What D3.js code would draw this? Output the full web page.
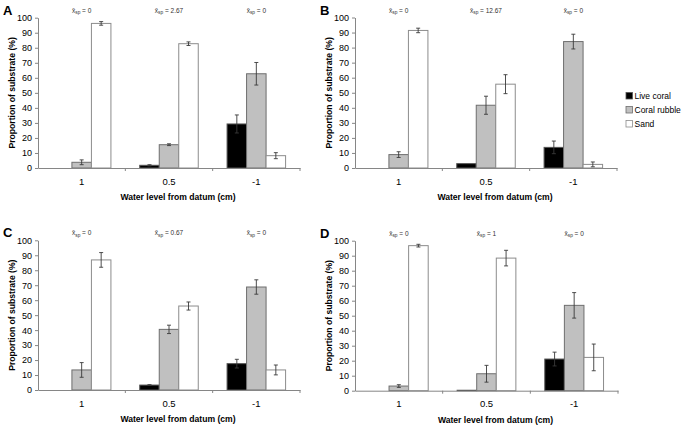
<!DOCTYPE html>
<html><head><meta charset="utf-8">
<script src="https://cdn.jsdelivr.net/npm/d3@7"></script>
<style>body{margin:0;background:#fff}svg{display:block}</style>
</head><body><svg id="c" width="685" height="426"></svg>
<script>
const categories = ["1", "0.5", "-1"];
const seriesNames = ["Live coral", "Coral rubble", "Sand"];
const yTicks = [0,10,20,30,40,50,60,70,80,90,100];
const panelLetters = ["A", "B", "C", "D"];
const spValues = [["0","2.67","0"], ["0","12.67","0"], ["0","0.67","0"], ["0","1","0"]];

const liveA = [0, 1.8, 29.3],   rubbleA = [3.8, 15.5, 62.7],  sandA = [96.2, 82.7, 8.2];
const liveErrA = [0, 0.4, 6],   rubbleErrA = [1.6, 0.6, 7.5], sandErrA = [1.2, 1.2, 2];
const liveB = [0, 2.9, 13.7],   rubbleB = [8.9, 41.7, 84],    sandB = [91.4, 55.7, 2.4];
const liveErrB = [0, 0, 4.2],   rubbleErrB = [1.9, 6, 4.9],   sandErrB = [1.5, 6.3, 1.6];
const liveC = [0, 3.3, 17.6],   rubbleC = [13.4, 40.5, 68.8], sandC = [86.9, 56.1, 13.4];
const liveErrC = [0, 0.3, 2.9], rubbleErrC = [4.9, 2.8, 4.8], sandErrC = [4.9, 2.7, 3.3];
const liveD = [0, 0.3, 21.1],   rubbleD = [3.1, 11.3, 56.9],  sandD = [96.7, 88.4, 22.2];
const liveErrD = [0, 0, 4.6],   rubbleErrD = [0.9, 5.6, 8.5], sandErrD = [0.9, 5.2, 8.9];

const panelValues = [[liveA, rubbleA, sandA],[liveB, rubbleB, sandB],[liveC, rubbleC, sandC],[liveD, rubbleD, sandD]];
const panelErrors = [[liveErrA, rubbleErrA, sandErrA],[liveErrB, rubbleErrB, sandErrB],[liveErrC, rubbleErrC, sandErrC],[liveErrD, rubbleErrD, sandErrD]];

const fills = ["#000000", "#c0c0c0", "#ffffff"];
const strokes = ["#555555", "#6e6e6e", "#8c8c8c"];
const font = "Liberation Sans, Arial, sans-serif";

const svg = d3.select("#c");
const layout = [
  {left:38, right:300, top:17.7, bottom:168},
  {left:355, right:617, top:17.5, bottom:168},
  {left:38, right:300, top:240.3, bottom:390},
  {left:355, right:618, top:240.7, bottom:390.7}
];

layout.forEach((L, p) => {
  const g = svg.append("g");
  const x0 = d3.scaleBand().domain(categories).range([L.left, L.right]).padding(0);
  const bw = x0.bandwidth();
  const x1 = d3.scaleBand().domain(seriesNames).range([0.165*bw, 0.835*bw]).padding(0);
  const y = d3.scaleLinear().domain([0,100]).range([L.bottom, L.top]);

  // bars
  seriesNames.forEach((s, si) => {
    categories.forEach((c, ci) => {
      const v = panelValues[p][si][ci];
      if (v <= 0) return;
      g.append("rect")
        .attr("x", x0(c) + x1(s))
        .attr("y", y(v))
        .attr("width", x1.bandwidth())
        .attr("height", y(0) - y(v))
        .attr("fill", fills[si])
        .attr("stroke", strokes[si])
        .attr("stroke-width", 1);
    });
  });
  // error bars
  seriesNames.forEach((s, si) => {
    categories.forEach((c, ci) => {
      const v = panelValues[p][si][ci], e = panelErrors[p][si][ci];
      if (!e) return;
      const cx = x0(c) + x1(s) + x1.bandwidth()/2;
      const eg = g.append("g").attr("stroke", "#3a3a3a").attr("stroke-width", 0.9);
      eg.append("line").attr("x1", cx).attr("x2", cx).attr("y1", y(v+e)).attr("y2", y(v-e));
      eg.append("line").attr("x1", cx-2).attr("x2", cx+2).attr("y1", y(v+e)).attr("y2", y(v+e));
      eg.append("line").attr("x1", cx-2).attr("x2", cx+2).attr("y1", y(v-e)).attr("y2", y(v-e));
    });
  });

  // y axis
  const ya = g.append("g").attr("transform", `translate(${L.left},0)`)
    .call(d3.axisLeft(y).tickValues(yTicks).tickSize(3).tickPadding(3).tickSizeOuter(0));
  ya.select(".domain").attr("stroke", "#868686");
  ya.selectAll(".tick line").attr("stroke", "#868686");
  ya.selectAll("text").attr("font-family", font).attr("font-size", 9).attr("fill", "#000");

  // x axis
  const xa = g.append("g").attr("transform", `translate(0,${L.bottom})`)
    .call(d3.axisBottom(x0).tickSize(0).tickPadding(10).tickSizeOuter(0));
  xa.select(".domain").attr("stroke", "#868686");
  xa.selectAll("text").attr("font-family", font).attr("font-size", 9.5).attr("fill", "#000");
  // category boundary ticks
  const bounds = categories.map(c => x0(c)).concat([L.right]).slice(1);
  xa.selectAll(".bt").data(bounds).enter().append("line")
    .attr("x1", d => d).attr("x2", d => d).attr("y1", 0).attr("y2", 3)
    .attr("stroke", "#868686");

  // titles
  g.append("text").attr("x", (L.left+L.right)/2 + 9).attr("y", L.bottom + 32)
    .attr("text-anchor", "middle").attr("font-family", font).attr("font-weight", "bold")
    .attr("font-size", 8.6).text("Water level from datum (cm)");
  g.append("text").attr("transform", `translate(${L.left-26},${(L.top+L.bottom)/2}) rotate(-90)`)
    .attr("text-anchor", "middle").attr("font-family", font).attr("font-weight", "bold")
    .attr("dy", "0.35em").attr("font-size", 8.6).text("Proportion of substrate (%)");
  g.append("text").attr("x", L.left - 35).attr("y", L.top - 3)
    .attr("font-family", font).attr("font-weight", "bold").attr("font-size", 13)
    .text(panelLetters[p]);

  // annotations
  categories.forEach((c, ci) => {
    const t = g.append("text").attr("x", x0(c) + bw/2).attr("y", L.top - 5)
      .attr("text-anchor", "middle").attr("font-family", font).attr("font-size", 6.5).attr("fill", "#333");
    t.append("tspan").text("x\u0304");
    t.append("tspan").attr("font-size", 4.8).attr("dy", 1.5).text("sp");
    t.append("tspan").attr("dy", -1.5).text(" = " + spValues[p][ci]);
  });
});

// legend
const lg = svg.append("g").attr("transform", "translate(626,96)");
seriesNames.forEach((s, i) => {
  lg.append("rect").attr("x", 0).attr("y", i*14 - 3.5).attr("width", 6.5).attr("height", 6.5)
    .attr("fill", fills[i]).attr("stroke", strokes[i]).attr("stroke-width", 0.8);
  lg.append("text").attr("x", 8.5).attr("y", i*14).attr("dy", "0.35em")
    .attr("font-family", font).attr("font-size", 8.5).text(s);
});
</script></body></html>
